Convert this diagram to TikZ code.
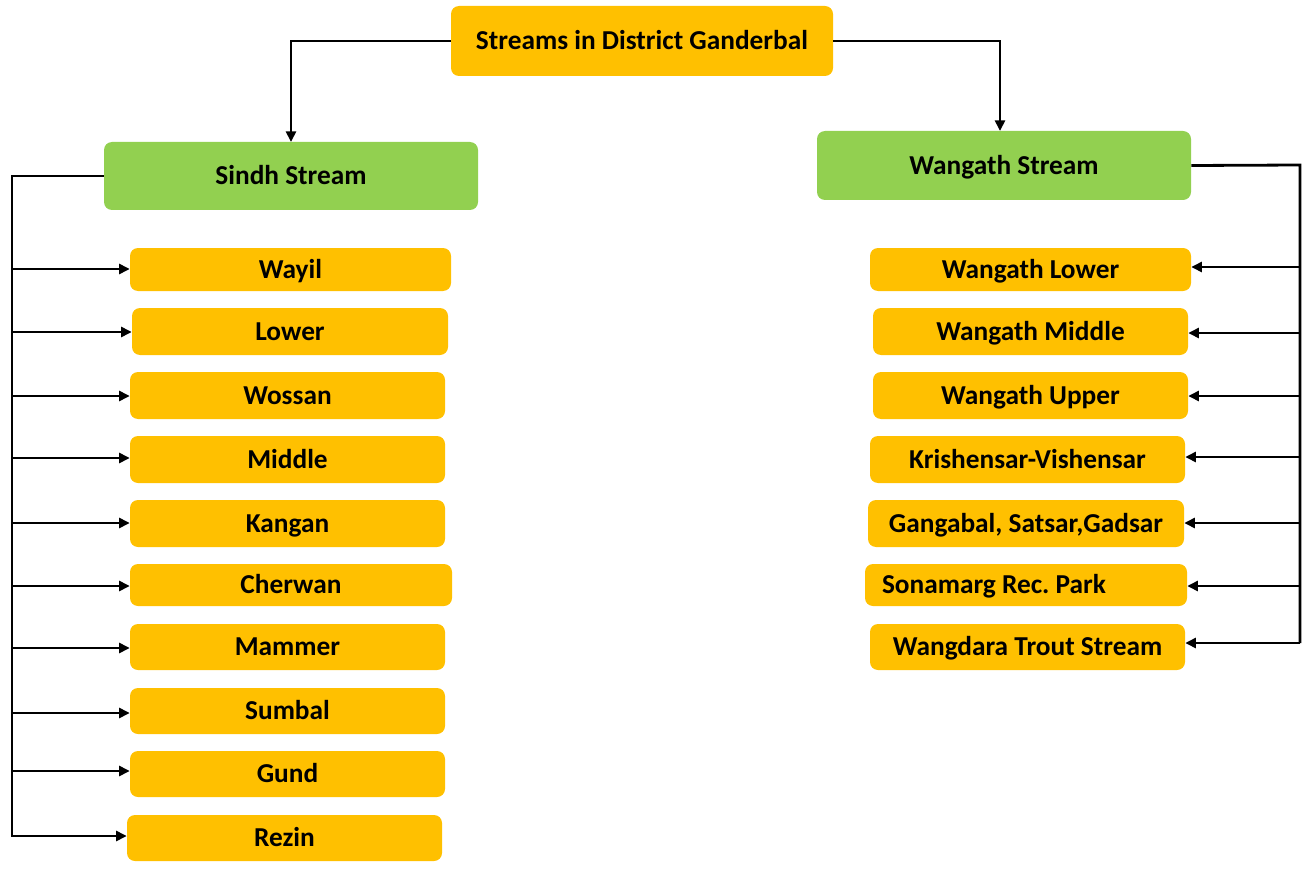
\documentclass[tikz,border=0pt]{standalone}
\usepackage{fontspec}
\setmainfont{Carlito}
\usetikzlibrary{arrows.meta}
\definecolor{boxorange}{HTML}{FFC000}
\definecolor{boxgreen}{HTML}{92D050}
\frenchspacing
\begin{document}
\begin{tikzpicture}[x=0.75pt,y=-0.75pt,
  box/.style={fill=boxorange,draw=none,rounded corners=6pt,inner sep=0pt,text height=13.2pt,text depth=0pt,font=\fontsize{20.5}{24}\selectfont\bfseries},
  gbox/.style={box,fill=boxgreen},
  conn/.style={line width=2.1pt,draw=black},
  arr/.style={conn,-{Triangle[length=8pt,width=7.5pt]}}]
\useasboundingbox (0,0) rectangle (1303,870);
\newcommand{\mybox}[7]{\node[#1,minimum width=#4*0.75pt-#2*0.75pt,minimum height=#5*0.75pt-#3*0.75pt] (#6) at ({(#2+#4)/2},{(#3+#5)/2}) {#7};}
\mybox{box}{451}{6}{833}{76}{top}{Streams in District Ganderbal}
\mybox{gbox}{104}{142}{478}{210}{sindh}{Sindh Stream}
\mybox{gbox}{817}{131}{1191}{200}{wang}{Wangath Stream}
% left column
\mybox{box}{130}{248}{451}{291}{l1}{Wayil}
\mybox{box}{132}{308}{448}{355}{l2}{Lower}
\mybox{box}{130}{372}{445}{419}{l3}{Wossan}
\mybox{box}{130}{436}{445}{483}{l4}{Middle}
\mybox{box}{130}{500}{445}{547}{l5}{Kangan}
\mybox{box}{130}{564}{452}{606}{l6}{Cherwan}
\mybox{box}{130}{624}{445}{670}{l7}{Mammer}
\mybox{box}{130}{688}{445}{734}{l8}{Sumbal}
\mybox{box}{130}{751}{445}{797}{l9}{Gund}
\mybox{box}{127}{815}{442}{861}{l10}{Rezin}
% right column
\mybox{box}{870}{248}{1191}{291}{r1}{Wangath Lower}
\mybox{box}{873}{308}{1188}{355}{r2}{Wangath Middle}
\mybox{box}{873}{372}{1188}{419}{r3}{Wangath Upper}
\mybox{box}{870}{436}{1185}{483}{r4}{Krishensar-Vishensar}
\mybox{box}{868}{500}{1184}{547}{r5}{Gangabal, Satsar,Gadsar}
\mybox{box}{865}{564}{1187}{606}{r6}{\makebox[216pt][l]{Sonamarg Rec. Park}}
\mybox{box}{870}{624}{1185}{670}{r7}{Wangdara Trout Stream}
% top connectors
\coordinate (st) at (291,142);
\coordinate (wt) at (1000,131);
\draw[arr] (top.west) -| (st);
\draw[arr] (top.east) -| (wt);
% left bus
\coordinate (lb1) at (12,176);
\coordinate (lb2) at (12,837);
\draw[conn] (sindh.west) -- (lb1) -- (lb2);
\foreach \n/\y in {l1/269,l2/332,l3/396,l4/458,l5/523,l6/586,l7/648,l8/713,l9/771,l10/836}{
  \coordinate (s\n) at (12,\y);
  \draw[arr] (s\n) -- (s\n -| \n.west);
}
% right bus
\coordinate (rb1) at (1300,165);
\coordinate (rb2) at (1300,643);
\draw[conn] (wang.east) -- (rb1) -- (rb2);
\foreach \n/\y in {r1/267,r2/333,r3/396,r4/457,r5/523,r6/586,r7/643}{
  \coordinate (s\n) at (1300,\y);
  \draw[arr] (s\n) -- (s\n -| \n.east);
}
\end{tikzpicture}
\end{document}
